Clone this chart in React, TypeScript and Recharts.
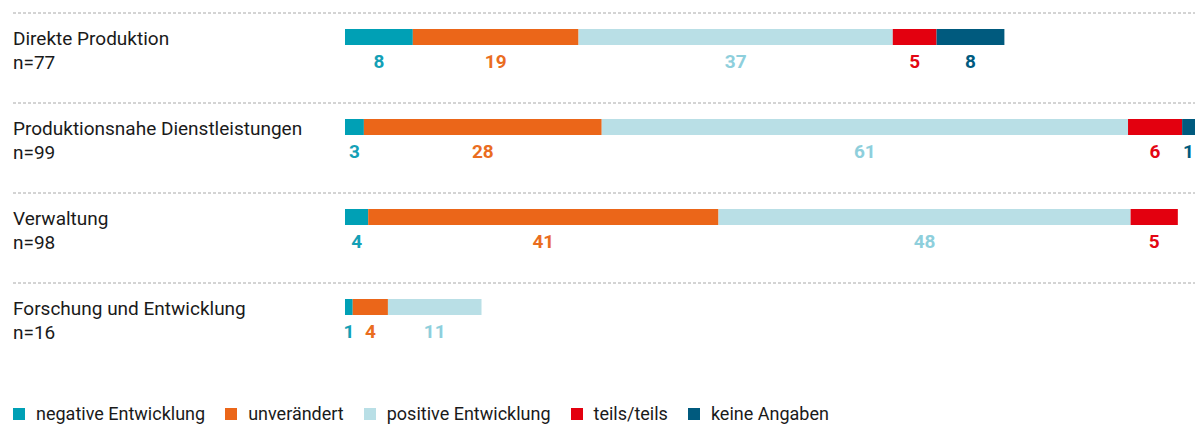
import React from 'react';
import { BarChart, Bar, XAxis, YAxis, LabelList } from 'recharts';

const categories = ['Direkte Produktion', 'Produktionsnahe Dienstleistungen', 'Verwaltung', 'Forschung und Entwicklung'];
const sampleSizes = [77, 99, 98, 16];

// printed numbers under the bars
const negative = [8, 3, 4, 1];
const unchanged = [19, 28, 41, 4];
const positive = [37, 61, 48, 11];
const mixed = [5, 6, 5, 0];
const noAnswer = [8, 1, 0, 0];

// segment lengths as drawn in the picture
const negativeLen = [7.9, 2.2, 2.7, 0.9];
const unchangedLen = [19.3, 27.7, 40.8, 4.1];
const positiveLen = [36.6, 61.3, 48.0, 10.9];
const mixedLen = [5.1, 6.3, 5.5, 0];
const noAnswerLen = [7.9, 1.5, 0, 0];

const series = [
  { key: 'negative', name: 'negative Entwicklung', fill: '#00a0b5', text: '#13a0b6' },
  { key: 'unchanged', name: 'unverändert', fill: '#eb6619', text: '#ea6d1f' },
  { key: 'positive', name: 'positive Entwicklung', fill: '#b9dfe6', text: '#8ecfdc' },
  { key: 'mixed', name: 'teils/teils', fill: '#e3000f', text: '#e30613' },
  { key: 'noAnswer', name: 'keine Angaben', fill: '#005a7e', text: '#005b80' },
];

const data = categories.map((name, i) => ({
  name,
  n: sampleSizes[i],
  negative: negativeLen[i],
  unchanged: unchangedLen[i],
  positive: positiveLen[i],
  mixed: mixedLen[i],
  noAnswer: noAnswerLen[i],
  negativeLabel: negative[i],
  unchangedLabel: unchanged[i],
  positiveLabel: positive[i],
  mixedLabel: mixed[i],
  noAnswerLabel: noAnswer[i],
}));

const FONT = 'Roboto, "Noto Sans", Arial, sans-serif';

const CategoryTick = (props: any) => {
  const { y, payload, index } = props;
  return (
    <g>
      <line x1={13} x2={1195} y1={y - 24} y2={y - 24} stroke="#a8a8a8" strokeDasharray="3 2" />
      <text x={13} y={y + 8} fontSize={19} fill="#1a1a1a" fontFamily={FONT}>{payload.value}</text>
      <text x={13} y={y + 32} fontSize={19} fill="#1a1a1a" fontFamily={FONT}>{`n=${data[index]?.n ?? ''}`}</text>
    </g>
  );
};

const makeValueLabel = (color: string) => (props: any) => {
  const { x, y, width, height, value } = props;
  if (!value) return null;
  return (
    <text x={x + width / 2} y={y + height + 23} textAnchor="middle" fontSize={19} fontWeight="bold" fill={color} fontFamily={FONT}>
      {value}
    </text>
  );
};

export default function App() {
  return (
    <div style={{ position: 'absolute', left: 0, top: 0, width: 1195, height: 425 }}>
      <div style={{ position: 'absolute', left: 0, top: -20 }}>
        <BarChart
          width={1195}
          height={375}
          data={data}
          layout="vertical"
          margin={{ top: 12, right: 0, bottom: 3, left: 0 }}
          barSize={16}
        >
          <XAxis type="number" domain={[0, 99]} hide />
          <YAxis type="category" dataKey="name" width={345} axisLine={false} tickLine={false} tick={<CategoryTick />} interval={0} />
          {series.map((s) => (
            <Bar key={s.key} dataKey={s.key} name={s.name} stackId="a" fill={s.fill} isAnimationActive={false}>
              <LabelList dataKey={`${s.key}Label`} content={makeValueLabel(s.text)} />
            </Bar>
          ))}
        </BarChart>
      </div>
      <div style={{ position: 'absolute', left: 13, top: 403, display: 'flex', alignItems: 'center', fontFamily: FONT, fontSize: 18, color: '#1a1a1a' }}>
        {series.map((s) => (
          <div key={s.key} style={{ display: 'flex', alignItems: 'center', marginRight: 20 }}>
            <span style={{ width: 12, height: 12, background: s.fill, display: 'inline-block', marginRight: 11 }} />
            <span>{s.name}</span>
          </div>
        ))}
      </div>
    </div>
  );
}
